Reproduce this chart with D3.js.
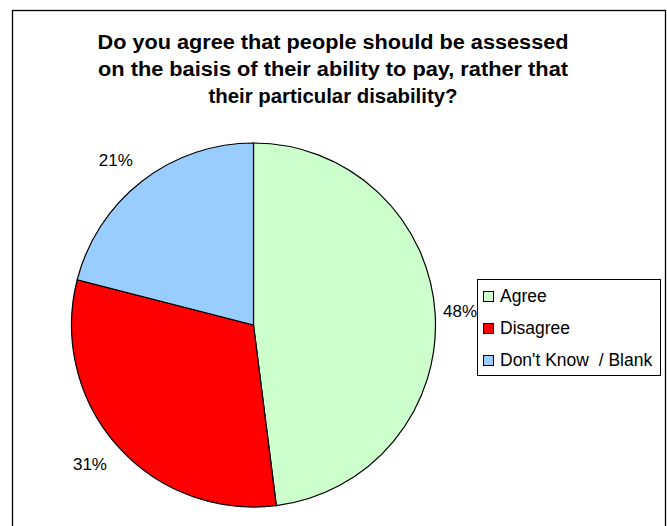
<!DOCTYPE html>
<html>
<head>
<meta charset="utf-8">
<script src="https://cdn.jsdelivr.net/npm/d3@7"></script>
<style>
  html, body { margin: 0; padding: 0; background: #fff; }
  svg { display: block; }
  text { font-family: "Liberation Sans", Arial, sans-serif; fill: #000; }
</style>
</head>
<body>
<svg id="chart" width="667" height="526"></svg>
<script>
const titleLines = [
  "Do you agree that people should be assessed",
  "on the baisis of their ability to pay, rather that",
  "their particular disability?"
];
const categories = ["Agree", "Disagree", "Don't Know  / Blank"];
const values = [48, 31, 21];
const colors = ["#CCFFCC", "#FF0000", "#99CCFF"];

const svg = d3.select("#chart");

// chart area border
svg.append("rect")
  .attr("x", 12.5).attr("y", 10.5)
  .attr("width", 653).attr("height", 530)
  .attr("fill", "#fff").attr("stroke", "#000").attr("stroke-width", 1.3);

// title
const titleY = [49, 76, 103];
const titleW = [471, 470, 249];
titleLines.forEach((t, i) => {
  svg.append("text")
    .attr("x", 333).attr("y", titleY[i])
    .attr("text-anchor", "middle")
    .attr("font-weight", "bold")
    .attr("font-size", 20)
    .attr("textLength", titleW[i])
    .attr("lengthAdjust", "spacingAndGlyphs")
    .text(t);
});

// pie
const cx = 253.5, cy = 325, r = 182;
const data = categories.map((c, i) => ({ cat: c, value: values[i], color: colors[i] }));
const pie = d3.pie().sort(null).value(d => d.value);
const arc = d3.arc().innerRadius(0).outerRadius(r);
const arcs = pie(data);

const pieG = svg.append("g").attr("transform", `translate(${cx},${cy})`);
pieG.selectAll("path")
  .data(arcs)
  .join("path")
  .attr("d", arc)
  .attr("fill", d => d.data.color)
  .attr("stroke", "#000")
  .attr("stroke-width", 1.2);

// percentage labels
const labelArc = d3.arc().innerRadius(r + 28).outerRadius(r + 28);
const labelOffsets = [[-3, 0], [-6, 1], [-9, 1]];
pieG.selectAll("text.lbl")
  .data(arcs)
  .join("text")
  .attr("class", "lbl")
  .attr("font-size", 17)
  .attr("text-anchor", "middle")
  .attr("dominant-baseline", "central")
  .attr("transform", (d, i) => {
    const [x, y] = labelArc.centroid(d);
    return `translate(${x + labelOffsets[i][0]},${y + labelOffsets[i][1]})`;
  })
  .text(d => d.data.value + "%");

// legend
const legX = 477.5, legY = 279.5, legW = 183, legH = 96;
const legG = svg.append("g");
legG.append("rect")
  .attr("x", legX).attr("y", legY).attr("width", legW).attr("height", legH)
  .attr("fill", "#fff").attr("stroke", "#000").attr("stroke-width", 1);
const rowY = d3.scalePoint().domain(categories).range([296, 360]);
const rows = legG.selectAll("g.row").data(data).join("g")
  .attr("class", "row")
  .attr("transform", d => `translate(0,${rowY(d.cat)})`);
rows.append("rect")
  .attr("x", 483.5).attr("y", -4.5).attr("width", 10).attr("height", 10)
  .attr("fill", d => d.color).attr("stroke", "#000").attr("stroke-width", 1);
rows.append("text")
  .attr("x", 500).attr("y", 6)
  .attr("font-size", 17.5)
  .attr("xml:space", "preserve")
  .style("white-space", "pre")
  .text(d => d.cat);
</script>
</body>
</html>
